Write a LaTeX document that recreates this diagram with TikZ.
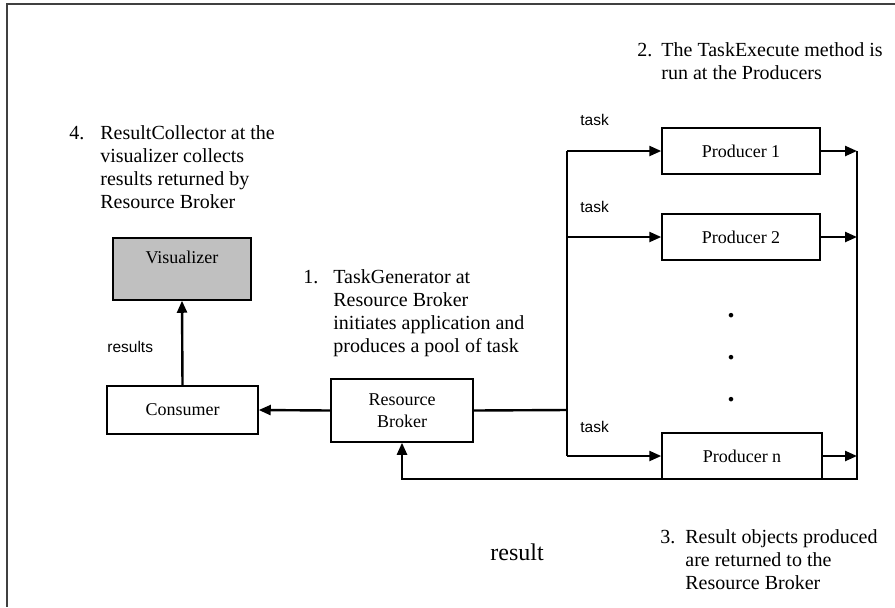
\documentclass[tikz,border=0pt]{standalone}
\usepackage{fontspec}
\setmainfont{Liberation Serif}
\newfontfamily\arialfont{Liberation Sans}
\usepackage{tikz}
\usetikzlibrary{arrows.meta}
\definecolor{visgray}{RGB}{192,192,192}
\newcommand{\boxfont}{\fontsize{9}{11}\selectfont}
\tikzset{
  box/.style={draw, line width=0.75pt, inner sep=0pt, align=center, font=\boxfont},
  note/.style={inner sep=0pt, anchor=base west, font=\fontsize{10}{11.5}\selectfont},
  tasklabel/.style={inner sep=0pt, anchor=base west, font=\arialfont\fontsize{7.75}{9}\selectfont},
  dotmark/.style={inner sep=0pt, anchor=base, font=\fontsize{14}{14}\selectfont\bfseries},
  conn/.style={line width=1.2pt},
  flow/.style={conn, -{Triangle[length=6pt,width=5pt]}},
  frame/.style={line width=0.8pt, color=black!75},
}

\begin{document}
\begin{tikzpicture}[x=0.5pt,y=0.5pt,yscale=-1,xscale=1]
\useasboundingbox (0,0) rectangle (895,607);
%Frame
\draw[frame] (895,4) -- (7,4) -- (7,607);
%Shape: Rectangle
\node[box, minimum width=79pt, minimum height=23pt] (p1) at (741,151) {Producer 1};
\node[box, minimum width=79pt, minimum height=23pt] (p2) at (741,237) {Producer 2};
\node[box, minimum width=80pt, minimum height=23pt] (pn) at (742,456) {Producer n};
\node[box, minimum width=71pt, minimum height=31.5pt] (rb) at (402,410.5) {Resource\\Broker};
\node[box, minimum width=75.5pt, minimum height=24pt] (con) at (182.5,410) {Consumer};
\node[box, fill=visgray, minimum width=69pt, minimum height=31pt,
  label={[name=vislabel, font=\boxfont, inner sep=0pt, anchor=north, yshift=-6.5pt]north:Visualizer}] (vis) at (182,269) {};
%Dots
\node[dotmark] (dot1) at (731,317) {.};
\node[dotmark] (dot2) at (731,359) {.};
\node[dotmark] (dot3) at (731,401) {.};
%Coordinates
\coordinate (fork) at (567,410);
\coordinate (busTop) at (567,151);
\coordinate (busBot) at (567,456);
\coordinate (joinTop) at (857,151);
\coordinate (joinBot) at (857,479);
%Straight Lines
\draw[conn] (rb.east) -- (fork);
\draw[conn] (busTop) -- (busBot);
\draw[flow] (busTop) -- (p1.west);
\draw[flow] (busTop |- p2.west) -- (p2.west);
\draw[flow] (busBot) -- (pn.west);
\draw[flow] (p1.east) -- (p1.east -| joinTop);
\draw[flow] (p2.east) -- (p2.east -| joinTop);
\draw[flow] (pn.east) -- (pn.east -| joinTop);
\draw[flow] (joinTop) -- (joinBot) -- (joinBot -| rb.south) -- (rb.south);
\draw[flow] (rb.west) -- (con.east);
\draw[flow] (con.north) -- (vis.south);
%Labels
\node[tasklabel] (task1) at (580,125) {task};
\node[tasklabel] (task2) at (580,212) {task};
\node[tasklabel] (task3) at (580,432) {task};
\node[tasklabel] (resultsLabel) at (107,352) {results};
\node[note, font=\fontsize{12}{14}\selectfont] (resultLabel) at (490,560) {result};
%Text
\node[note] (step1) at (303,283) {\begin{tabular}[t]{@{}p{15pt}@{}l@{}}1. & TaskGenerator at\\ & Resource Broker\\ & initiates application and\\ & produces a pool of task\end{tabular}};
\node[note] (step2) at (637,56) {\begin{tabular}[t]{@{}p{12pt}@{}l@{}}2. & The TaskExecute method is\\ & run at the Producers\end{tabular}};
\node[note] (step3) at (660,543) {\begin{tabular}[t]{@{}p{12.5pt}@{}l@{}}3. & Result objects produced\\ & are returned to the\\ & Resource Broker\end{tabular}};
\node[note] (step4) at (69,139) {\begin{tabular}[t]{@{}p{15.5pt}@{}l@{}}4. & ResultCollector at the\\ & visualizer collects\\ & results returned by\\ & Resource Broker\end{tabular}};
\end{tikzpicture}
\end{document}
